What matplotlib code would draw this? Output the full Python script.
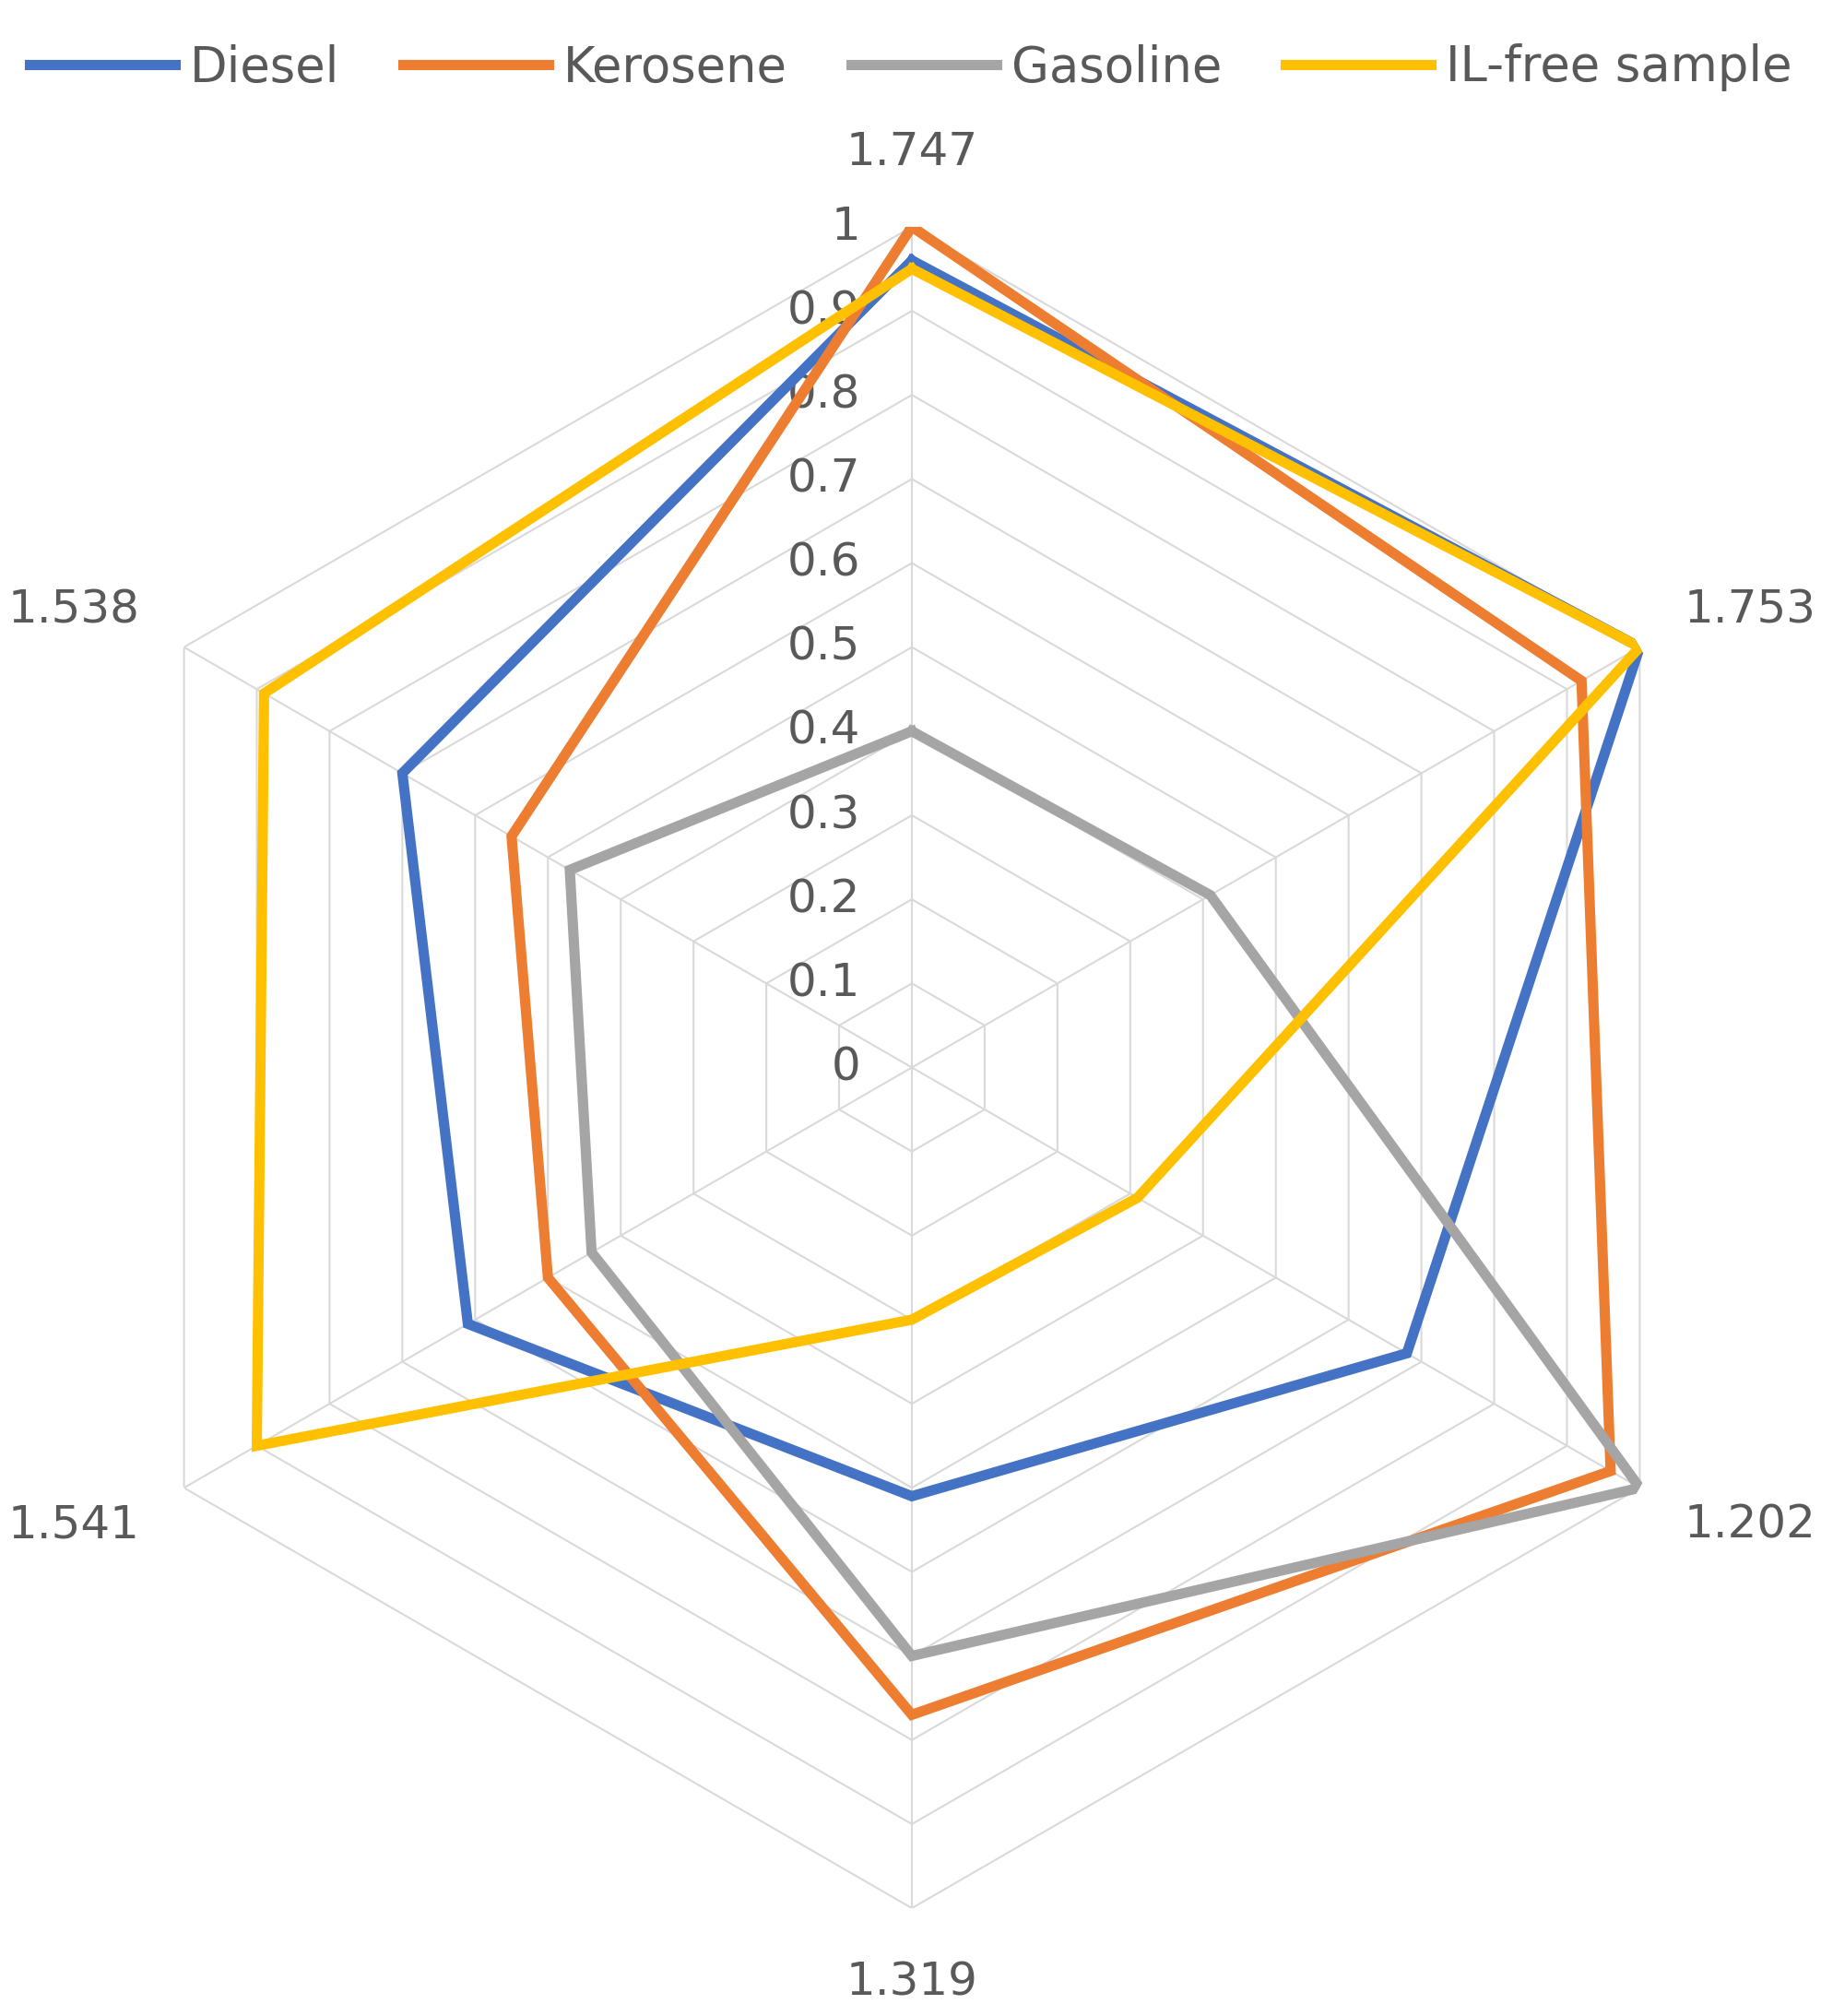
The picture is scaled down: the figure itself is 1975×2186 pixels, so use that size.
import numpy as np
import matplotlib
matplotlib.use("Agg")
import matplotlib.pyplot as plt

categories = ["1.747", "1.753", "1.202", "1.319", "1.541", "1.538"]
diesel =   [0.96, 1.00, 0.68, 0.51, 0.61, 0.70]
kerosene = [1.00, 0.92, 0.96, 0.77, 0.50, 0.55]
gasoline = [0.40, 0.41, 1.00, 0.70, 0.44, 0.47]
ilfree =   [0.95, 1.00, 0.31, 0.30, 0.90, 0.89]
series = [("Diesel", diesel, "#4472C4"), ("Kerosene", kerosene, "#ED7D31"),
          ("Gasoline", gasoline, "#A5A5A5"), ("IL-free sample", ilfree, "#FFC000")]
levels = [0, 0.1, 0.2, 0.3, 0.4, 0.5, 0.6, 0.7, 0.8, 0.9, 1]

fig = plt.figure(figsize=(19.75, 21.86), dpi=100)
ax = fig.add_axes([0.039, 0.0535, 0.9235, 0.834], projection="polar")
ax.set_theta_offset(np.pi / 2)
ax.set_theta_direction(-1)
ax.set_ylim(0, 1)
ax.grid(False)
ax.spines["polar"].set_visible(False)
ax.set_xticks([]); ax.set_yticks([])

n = len(categories)
ang = np.linspace(0, 2 * np.pi, n, endpoint=False)
angc = np.append(ang, ang[0])
for lv in levels[1:]:
    ax.plot(angc, [lv] * (n + 1), color="#D9D9D9", lw=1.5, zorder=1)
for a in ang:
    ax.plot([a, a], [0, 1], color="#D9D9D9", lw=1.5, zorder=1)

for name, vals, col in series:
    ax.plot(angc, vals + [vals[0]], color=col, lw=8, label=name, zorder=3,
            solid_joinstyle="miter")

for lv in levels:
    ax.annotate(f"{lv:g}", xy=(0, lv), xytext=(-40, 0), textcoords="offset points",
                ha="right", va="center", fontsize=36, color="#595959", zorder=2)

for a, c in zip(ang, categories):
    ax.annotate(c, xy=(a, 1), xytext=(62 * np.sin(a) * 1.6, 58 * np.cos(a)),
                textcoords="offset points", ha="center", va="center",
                fontsize=36, color="#595959")

fig.legend(loc="upper center", ncol=4, bbox_to_anchor=(0.5, 1.0), frameon=False,
           fontsize=38, handlelength=3, columnspacing=1.3, handletextpad=0.3,
           labelcolor="#595959")
fig.savefig("out.png", dpi=100)
